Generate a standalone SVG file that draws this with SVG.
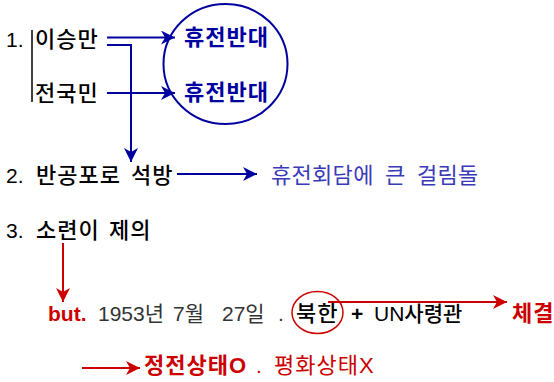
<svg xmlns="http://www.w3.org/2000/svg" width="554" height="382" viewBox="0 0 554 382">
<style>
text{font-family:"Liberation Sans","Noto Sans CJK KR",sans-serif;font-size:21px}
.h{font-size:22px;letter-spacing:1px}
.h2{font-size:22px;letter-spacing:0.3px}
.k{fill:#000;font-weight:500}
.kb{fill:#000;font-weight:bold}
.bb{fill:#0000a0;font-weight:bold}
.bl{fill:#3a3ab8}
.g{fill:#333}
.rb{fill:#cc0000;font-weight:bold}
.r{fill:#cc0000}
.bline{stroke:#0000a0;stroke-width:2;fill:none}
.rline{stroke:#cc0000;stroke-width:2;fill:none}
</style>
<defs>
<marker id="ab" markerUnits="userSpaceOnUse" markerWidth="16" markerHeight="14" refX="14" refY="7" orient="auto">
<path d="M0,0 L14,7 L0,14 L4,7 Z" fill="#0000a0"/>
</marker>
<marker id="ar" markerUnits="userSpaceOnUse" markerWidth="16" markerHeight="14" refX="14" refY="7" orient="auto">
<path d="M0,0 L14,7 L0,14 L4,7 Z" fill="#cc0000"/>
</marker>
</defs>
<g id="connectors">
<path class="bline" d="M107,37.5 H175" marker-end="url(#ab)"/>
<path class="bline" d="M107,45 H131 V162" marker-end="url(#ab)"/>
<path class="bline" d="M107,93 H175" marker-end="url(#ab)"/>
<path class="bline" d="M177,174 H257" marker-end="url(#ab)"/>
<path class="rline" d="M63,243 V302" marker-end="url(#ar)"/>
<path class="rline" d="M328,302 H507" marker-end="url(#ar)"/>
<path class="rline" d="M82,368 H140" marker-end="url(#ar)"/>
</g>
<g id="item1">
<text class="k" x="6" y="47">1.</text>
<line x1="32" y1="30" x2="32" y2="102" stroke="#000" stroke-width="1.5"/>
<text class="k h" x="35" y="47">이승만</text>
<text class="k h" x="35" y="101">전국민</text>
</g>
<g id="circle">
<ellipse cx="225.5" cy="64" rx="62" ry="60" fill="none" stroke="#0000a0" stroke-width="2"/>
<text class="bb h" x="184" y="45">휴전반대</text>
<text class="bb h" x="184" y="100">휴전반대</text>
</g>
<g id="item2">
<text class="k" x="6" y="183">2.</text>
<text class="k h" x="36" y="183">반공포로</text>
<text class="k h" x="131" y="183">석방</text>
<text class="bl h2" x="271" y="183">휴전회담에</text>
<text class="bl h2" x="385" y="183">큰</text>
<text class="bl h2" x="417" y="183">걸림돌</text>
</g>
<g id="item3">
<text class="k" x="6" y="238">3.</text>
<text class="k h" x="36" y="238">소련이</text>
<text class="k h" x="109" y="238">제의</text>
</g>
<g id="but">
<text class="rb" x="48" y="321">but.</text>
<text class="g" x="98" y="321">1953년</text>
<text class="g" x="173" y="321">7월</text>
<text class="g" x="222" y="321">27일</text>
<text class="g" x="278" y="321">.</text>
</g>
<g id="bukhan">
<ellipse cx="317.5" cy="312.5" rx="25.5" ry="21" fill="none" stroke="#cc0000" stroke-width="1.5"/>
<text class="k h" x="296" y="321">북한</text>
<text class="kb" x="351" y="321">+</text>
<text class="k" x="374" y="321">UN사령관</text>
</g>
<g id="chegyeol">
<text class="rb h" x="512" y="321">체결</text>
</g>
<g id="state">
<text class="rb h" x="144" y="373">정전상태O</text>
<text class="r" x="256" y="373">.</text>
<text class="r h" x="274" y="373">평화상태X</text>
</g>
</svg>
